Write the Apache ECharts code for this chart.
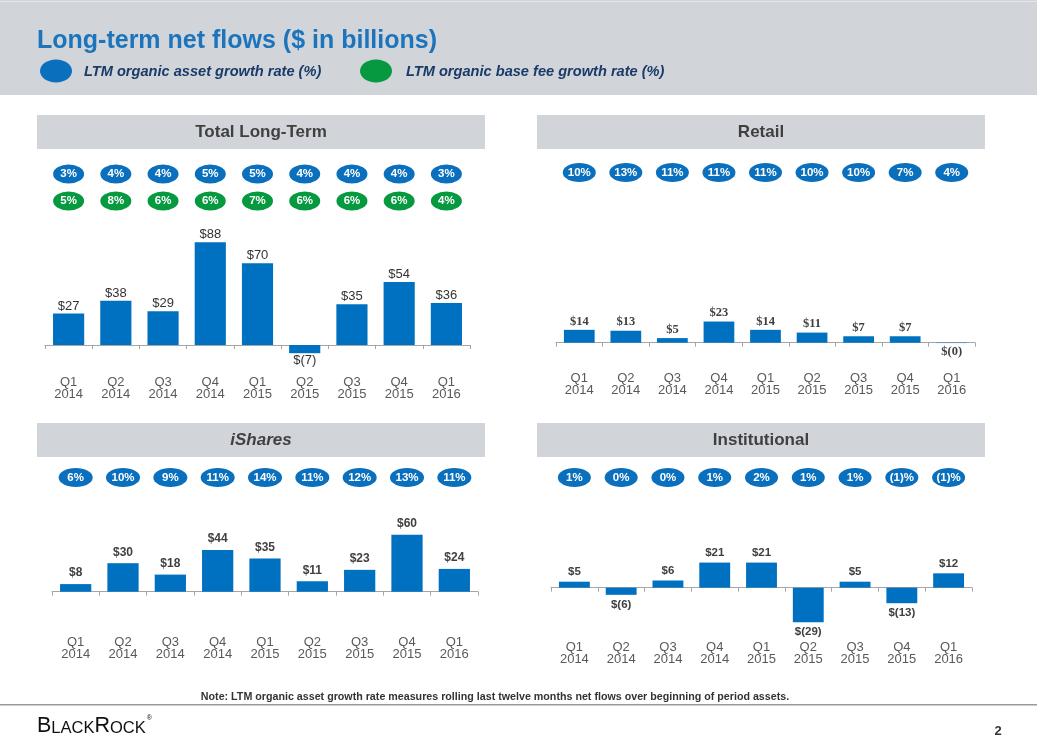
<!DOCTYPE html>
<html>
<head>
<meta charset="utf-8">
<script src="https://cdn.jsdelivr.net/npm/echarts@6/dist/echarts.min.js"></script>
<style>
html,body{margin:0;padding:0;background:#fff;}
#c{width:1037px;height:750px;}
</style>
</head>
<body>
<div id="c"></div>
<script>
// ---------- DATA ----------
const categories = ['Q1\n2014','Q2\n2014','Q3\n2014','Q4\n2014','Q1\n2015','Q2\n2015','Q3\n2015','Q4\n2015','Q1\n2016'];

const totalFlows        = [27, 38, 29, 88, 70, -7, 35, 54, 36];
const totalAssetGrowth  = [3, 4, 4, 5, 5, 4, 4, 4, 3];
const totalFeeGrowth    = [5, 8, 6, 6, 7, 6, 6, 6, 4];

const retailFlows       = [14, 13, 5, 23, 14, 11, 7, 7, -0.4];
const retailAssetGrowth = [10, 13, 11, 11, 11, 10, 10, 7, 4];

const isharesFlows       = [8, 30, 18, 44, 35, 11, 23, 60, 24];
const isharesAssetGrowth = [6, 10, 9, 11, 14, 11, 12, 13, 11];

const instFlows       = [5, -6, 6, 21, 21, -29, 5, -13, 12];
const instAssetGrowth = [1, 0, 0, 1, 2, 1, 1, -1, -1];

const titleText = 'Long-term net flows ($ in billions)';
const legendAsset = 'LTM organic asset growth rate (%)';
const legendFee = 'LTM organic base fee growth rate (%)';
const noteText = 'Note: LTM organic asset growth rate measures rolling last twelve months net flows over beginning of period assets.';

// ---------- STYLE / LAYOUT ----------
const BLUE = '#0a70bd';
const GREEN = '#06993f';
const BAR = '#0070c0';
const FONT = "'Liberation Sans', Arial, sans-serif";
const NARROW = "'Liberation Sans Narrow', 'Liberation Sans', Arial, sans-serif";

const panels = [
  { title: 'Total Long-Term', italic: false, hx: 37, hy: 115, flows: totalFlows,
    pills: [{data: totalAssetGrowth, color: BLUE, y: 174}, {data: totalFeeGrowth, color: GREEN, y: 201}],
    left: 45, width: 425, top: 240, height: 116.7, min: -10, max: 90, margin: 20, pillW: 31,
    lbl: {fontSize: 13, fontWeight: 'normal', color: '#333', fontFamily: FONT}, dist: 1 },
  { title: 'Retail', italic: false, hx: 537, hy: 115, flows: retailFlows,
    pills: [{data: retailAssetGrowth, color: BLUE, y: 172.5}],
    left: 556, width: 419, top: 319.7, height: 27.6, min: -5, max: 25, margin: 25.5, pillW: 33,
    lbl: {fontSize: 12.5, fontWeight: 'bold', color: '#404040', fontFamily: "'Liberation Serif', 'Times New Roman', serif"}, dist: 2 },
  { title: 'iShares', italic: true, hx: 37, hy: 423, flows: isharesFlows,
    pills: [{data: isharesAssetGrowth, color: BLUE, y: 477.5}],
    left: 52, width: 426, top: 529.95, height: 66.5, min: -5, max: 65, margin: 40, pillW: 34,
    lbl: {fontSize: 12, fontWeight: 'bold', color: '#404040', fontFamily: FONT}, dist: 5 },
  { title: 'Institutional', italic: false, hx: 537, hy: 423, flows: instFlows,
    pills: [{data: instAssetGrowth, color: BLUE, y: 477.5}],
    left: 551, width: 421, top: 557.8, height: 65.7, min: -30, max: 25, margin: 18, pillW: 33,
    lbl: {fontSize: 11.5, fontWeight: 'bold', color: '#404040', fontFamily: FONT}, dist: 4 }
];

function fmtMoney(v) {
  const r = Math.round(Math.abs(v));
  return v < 0 ? '$(' + r + ')' : '$' + r;
}
function fmtPct(v) {
  return v < 0 ? '(' + (-v) + ')%' : v + '%';
}

const grid = [], xAxis = [], yAxis = [], series = [];
const graphic = [];

// Header band
graphic.push({ type: 'rect', shape: {x: 0, y: 0, width: 1037, height: 95}, style: {fill: '#d1d5da'}, z: -10 });
graphic.push({ type: 'rect', shape: {x: 0, y: 1, width: 1037, height: 1}, style: {fill: '#e4e7ea'}, z: -9 });
graphic.push({ type: 'text', x: 37, y: 41, style: { text: titleText, fill: '#1c75bc', font: "bold 25px " + FONT, verticalAlign: 'middle' } });
graphic.push({ type: 'ellipse', shape: {cx: 56, cy: 71, rx: 16, ry: 11.5}, style: {fill: BLUE} });
graphic.push({ type: 'text', x: 84, y: 72, style: { text: legendAsset, fill: '#1a3a68', font: "italic bold 14.6px " + FONT, verticalAlign: 'middle' } });
graphic.push({ type: 'ellipse', shape: {cx: 376, cy: 71, rx: 16, ry: 11.5}, style: {fill: GREEN} });
graphic.push({ type: 'text', x: 406, y: 72, style: { text: legendFee, fill: '#1a3a68', font: "italic bold 14.6px " + FONT, verticalAlign: 'middle' } });

// Footer
graphic.push({ type: 'text', x: 495, y: 697, style: { text: noteText, fill: '#333', font: "bold 10.7px " + FONT, align: 'center', verticalAlign: 'middle' } });
graphic.push({ type: 'rect', shape: {x: 0, y: 704, width: 1037, height: 1.5}, style: {fill: '#9a9a9a'} });
graphic.push({ type: 'text', x: 37, y: 737, style: {
  text: '{b|B}{s|LACK}{b|R}{s|OCK}{r|®}',
  fill: '#111', verticalAlign: 'bottom',
  rich: {
    b: {fontSize: 21.5, fontFamily: FONT, fill: '#111', verticalAlign: 'bottom'},
    s: {fontSize: 16.5, fontFamily: FONT, fill: '#111', verticalAlign: 'bottom'},
    r: {fontSize: 7, fontFamily: FONT, fill: '#111', verticalAlign: 'top', padding: [0,0,10,1]}
  }
} });
graphic.push({ type: 'text', x: 998, y: 731, style: { text: '2', fill: '#333', font: "bold 13px " + FONT, align: 'center', verticalAlign: 'middle' } });

panels.forEach((p) => {
  // panel header
  graphic.push({ type: 'rect', shape: {x: p.hx, y: p.hy, width: 448, height: 34}, style: {fill: '#d1d5da'}, z: -5 });
  graphic.push({ type: 'text', x: p.hx + 224, y: p.hy + 17.5, style: {
    text: p.title, fill: '#404040', font: (p.italic ? 'italic ' : '') + "bold 17px " + FONT, align: 'center', verticalAlign: 'middle' } });

  // bar chart grid
  const gi = grid.length;
  grid.push({ left: p.left, top: p.top, width: p.width, height: p.height });
  xAxis.push({
    type: 'category', gridIndex: gi, data: categories,
    axisLine: { onZero: true, lineStyle: { color: '#a6a6a6', width: 1 } },
    axisTick: { show: true, length: 4, lineStyle: { color: '#a6a6a6' } },
    axisLabel: { margin: p.margin, color: '#595959', fontSize: 13, lineHeight: 12, fontFamily: NARROW, interval: 0 }
  });
  yAxis.push({ type: 'value', gridIndex: gi, min: p.min, max: p.max, show: false, splitLine: {show: false} });
  series.push({
    type: 'bar', xAxisIndex: gi, yAxisIndex: gi, barWidth: '66%',
    itemStyle: { color: BAR },
    data: p.flows.map(v => ({ value: v, label: { position: v < 0 ? 'bottom' : 'top' } })),
    label: Object.assign({ show: true, distance: p.dist, formatter: (d) => fmtMoney(d.value) }, p.lbl),
    silent: true, animation: false
  });

  // pill rows
  p.pills.forEach((row) => {
    const gj = grid.length;
    grid.push({ left: p.left, top: row.y - 10, width: p.width, height: 20 });
    xAxis.push({ type: 'category', gridIndex: gj, data: categories, show: false });
    yAxis.push({ type: 'value', gridIndex: gj, min: 0, max: 1, show: false });
    series.push({
      type: 'scatter', xAxisIndex: gj, yAxisIndex: gj,
      symbol: 'circle', symbolSize: [p.pillW, 19],
      itemStyle: { color: row.color, opacity: 1 },
      data: row.data.map((v, i) => ({ value: [i, 0.5], pct: v })),
      label: { show: true, position: 'inside', color: '#fff', fontSize: 11.5, fontWeight: 'bold', fontFamily: FONT,
               formatter: (d) => fmtPct(d.data.pct) },
      silent: true, animation: false
    });
  });
});

const chart = echarts.init(document.getElementById('c'), null, { renderer: 'canvas' });
chart.setOption({
  animation: false,
  backgroundColor: '#ffffff',
  grid, xAxis, yAxis, series, graphic
});
</script>
</body>
</html>
